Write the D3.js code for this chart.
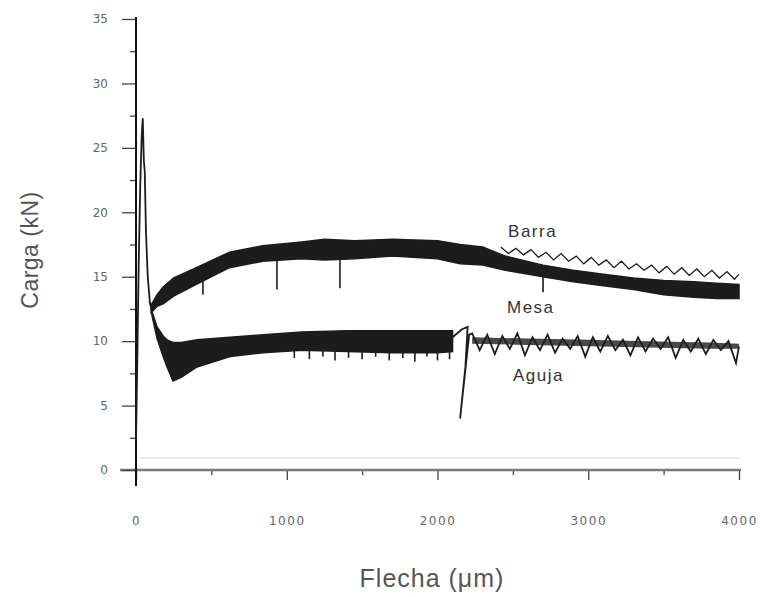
<!DOCTYPE html>
<html>
<head>
<meta charset="utf-8">
<script src="https://cdn.jsdelivr.net/npm/d3@7"></script>
<style>
  body { margin: 0; background: #fff; }
  svg { display: block; }
</style>
</head>
<body>
<svg id="chart" width="761" height="597"></svg>
<script>
// axis ticks
const xTicks = [0, 1000, 2000, 3000, 4000]
const xMinor = [500, 1500, 2500, 3500]
const yTicks = [0, 5, 10, 15, 20, 25, 30, 35]
const yMinor = [2.5, 7.5, 12.5, 17.5, 22.5, 27.5, 32.5]

// first loading peak (all tests)
const peakX = [0, 8, 18, 28, 38, 45, 52, 58, 66, 78, 92, 106]
const peakY = [2.3, 8, 16, 22, 26, 27.3, 24, 23.2, 18.5, 15, 13, 12.3]

// Barra + Mesa band (merged until ~2400, then Mesa)
const upperX   = [100, 140, 180, 250, 400, 620, 840, 1100, 1250, 1450, 1700, 2000, 2150, 2300, 2450, 2700, 2900, 3100, 3300, 3500, 3700, 3850, 4000]
const upperTop = [12.8, 13.6, 14.2, 14.9, 15.7, 16.9, 17.4, 17.7, 17.9, 17.8, 17.9, 17.8, 17.5, 17.3, 16.6, 15.9, 15.5, 15.2, 14.9, 14.7, 14.6, 14.5, 14.4]
const upperLow = [12.2, 12.7, 12.9, 13.5, 14.4, 15.7, 16.2, 16.4, 16.3, 16.4, 16.6, 16.4, 16.0, 15.9, 15.5, 15.0, 14.6, 14.3, 14.0, 13.6, 13.4, 13.3, 13.3]
const upperDropX = [444, 935, 1353, 2700]
const upperDropY = [13.6, 14.0, 14.1, 13.8]

// Barra after it separates
const barraX = [2420, 2470, 2520, 2570, 2620, 2670, 2720, 2770, 2820, 2870, 2920, 2970, 3020, 3070, 3120, 3170, 3220, 3270, 3320, 3370, 3420, 3470, 3520, 3570, 3620, 3670, 3720, 3770, 3820, 3870, 3920, 3970, 4000]
const barraY = [17.3, 16.8, 17.2, 16.7, 17.1, 16.5, 16.9, 16.3, 16.8, 16.2, 16.6, 16.0, 16.5, 15.9, 16.3, 15.7, 16.2, 15.6, 16.0, 15.5, 15.9, 15.3, 15.8, 15.2, 15.7, 15.1, 15.6, 15.0, 15.5, 14.9, 15.4, 14.8, 15.2]

// Aguja band
const agujaX   = [106, 140, 180, 206, 245, 300, 405, 624, 842, 1100, 1400, 1700, 2000, 2100]
const agujaTop = [12.3, 11.1, 10.4, 10.1, 9.9, 9.9, 10.1, 10.3, 10.5, 10.7, 10.8, 10.8, 10.8, 10.8]
const agujaLow = [12.0, 10.2, 8.8, 8.0, 6.9, 7.2, 8.0, 8.8, 9.1, 9.3, 9.2, 9.1, 9.1, 9.2]
const agujaDropX = [1050, 1150, 1240, 1320, 1410, 1500, 1590, 1680, 1770, 1850, 1930, 2000, 2080]
const agujaDropY = [8.7, 8.6, 8.8, 8.5, 8.7, 8.6, 8.8, 8.5, 8.7, 8.4, 8.8, 8.5, 8.6]

// Aguja unload / reload and tail
const agujaTailX = [2100, 2160, 2200, 2185, 2150, 2210, 2230, 2280, 2330, 2380, 2430, 2480, 2530, 2580, 2630, 2680, 2730, 2780, 2830, 2880, 2930, 2980, 3030, 3080, 3130, 3180, 3230, 3280, 3330, 3380, 3430, 3480, 3530, 3580, 3630, 3680, 3730, 3780, 3830, 3880, 3930, 3980, 4000]
const agujaTailY = [10.3, 10.9, 11.1, 8.0, 4.0, 10.5, 10.6, 9.3, 10.5, 9.0, 10.4, 9.4, 10.6, 8.9, 10.3, 9.3, 10.5, 9.1, 10.2, 9.4, 10.4, 8.8, 10.3, 9.2, 10.4, 9.3, 10.1, 8.9, 10.3, 9.2, 10.2, 9.4, 10.3, 8.7, 10.1, 9.2, 10.2, 9.0, 10.1, 9.3, 10.0, 8.3, 9.6]
// envelope of the Aguja tail
const tailX   = [2230, 2600, 3000, 3400, 3800, 4000]
const tailTop = [10.3, 10.2, 10.1, 10.0, 9.9, 9.8]
const tailLow = [9.8, 9.7, 9.6, 9.5, 9.4, 9.4]

const labels = [
  { name: "Barra", x: 2468, y: 18.1 },
  { name: "Mesa", x: 2461, y: 12.2 },
  { name: "Aguja", x: 2501, y: 6.9 }
]

const svg = d3.select("#chart")
const x = d3.scaleLinear().domain([0, 4000]).range([136, 739])
const y = d3.scaleLinear().domain([0, 35]).range([470, 19])
const ink = "#1c1c1c"

// faint frame line above the x axis
svg.append("line")
  .attr("x1", 140).attr("x2", 740)
  .attr("y1", 458).attr("y2", 458)
  .attr("stroke", "#e6e6e6").attr("stroke-width", 1.5)

// x axis
const xAxis = svg.append("g").attr("transform", `translate(0, ${y(0)})`)
  .call(d3.axisBottom(x).tickValues(xTicks).tickSize(10).tickFormat(d3.format("d")))
svg.append("g").attr("transform", `translate(0, ${y(0)})`)
  .call(d3.axisBottom(x).tickValues(xMinor).tickSize(5).tickFormat(""))
  .call(g => g.select(".domain").remove())
xAxis.select(".domain").remove()
svg.append("line")
  .attr("x1", 120).attr("x2", 741)
  .attr("y1", y(0)).attr("y2", y(0))
  .attr("stroke", "#7a7a7a").attr("stroke-width", 2.5)

// y axis
const yAxis = svg.append("g").attr("transform", `translate(${x(0)}, 0)`)
  .call(d3.axisLeft(y).tickValues(yTicks).tickSize(14).tickPadding(14).tickFormat(d3.format("d")))
svg.append("g").attr("transform", `translate(${x(0)}, 0)`)
  .call(d3.axisLeft(y).tickValues(yMinor).tickSize(6).tickFormat(""))
  .call(g => g.select(".domain").remove())
yAxis.select(".domain").remove()
svg.append("line")
  .attr("x1", x(0)).attr("x2", x(0))
  .attr("y1", 17).attr("y2", 486)
  .attr("stroke", "#111").attr("stroke-width", 2)

svg.selectAll(".tick line").attr("stroke", "#444").attr("stroke-width", 1.3)
svg.selectAll(".tick text")
  .attr("font-family", "DejaVu Sans")
  .attr("font-size", 12)
  .attr("fill", "#666")
xAxis.selectAll(".tick text").attr("dy", "3.5em").attr("letter-spacing", 1.5)

// axis titles
svg.append("text")
  .attr("transform", "translate(38, 250) rotate(-90)")
  .attr("text-anchor", "middle")
  .attr("font-family", "Liberation Sans")
  .attr("font-size", 23)
  .attr("letter-spacing", 0.5)
  .attr("fill", "#555")
  .text("Carga (kN)")
svg.append("text")
  .attr("x", 432).attr("y", 587)
  .attr("text-anchor", "middle")
  .attr("font-family", "Liberation Sans")
  .attr("font-size", 25)
  .attr("letter-spacing", 1)
  .attr("fill", "#555")
  .text("Flecha (μm)")

// bands
const band = (xs, top, low) => d3.area()
  .x((d, i) => x(xs[i]))
  .y0((d, i) => y(low[i]))
  .y1((d, i) => y(top[i]))(xs)
const path = (xs, ys) => d3.line()
  .x((d, i) => x(xs[i]))
  .y((d, i) => y(ys[i]))(xs)

svg.append("path").attr("d", band(upperX, upperTop, upperLow))
  .attr("fill", ink).attr("stroke", ink).attr("stroke-width", 1.5)
svg.append("path").attr("d", band(agujaX, agujaTop, agujaLow))
  .attr("fill", ink).attr("stroke", ink).attr("stroke-width", 1.5)
svg.append("path").attr("d", band(tailX, tailTop, tailLow))
  .attr("fill", ink).attr("fill-opacity", 0.8)

svg.append("path").attr("d", path(peakX, peakY))
  .attr("fill", "none").attr("stroke", ink).attr("stroke-width", 1.8)
svg.append("path").attr("d", path(barraX, barraY))
  .attr("fill", "none").attr("stroke", ink).attr("stroke-width", 1.3)
svg.append("path").attr("d", path(agujaTailX, agujaTailY))
  .attr("fill", "none").attr("stroke", ink).attr("stroke-width", 1.8)

// downward drops
svg.selectAll(".udrop").data(upperDropX).enter().append("line")
  .attr("x1", d => x(d)).attr("x2", d => x(d))
  .attr("y1", d => y(d3.min([upperLow[d3.bisectLeft(upperX, d)], 16.5])))
  .attr("y2", (d, i) => y(upperDropY[i]))
  .attr("stroke", ink).attr("stroke-width", 1.6)
svg.selectAll(".adrop").data(agujaDropX).enter().append("line")
  .attr("x1", d => x(d)).attr("x2", d => x(d))
  .attr("y1", y(9.4))
  .attr("y2", (d, i) => y(agujaDropY[i]))
  .attr("stroke", ink).attr("stroke-width", 1.6)

// curve names
svg.selectAll(".lbl").data(labels).enter().append("text")
  .attr("x", d => x(d.x)).attr("y", d => y(d.y))
  .attr("font-family", "Liberation Sans")
  .attr("font-size", 17)
  .attr("letter-spacing", 1.5)
  .attr("fill", "#333")
  .text(d => d.name)
</script>
</body>
</html>
